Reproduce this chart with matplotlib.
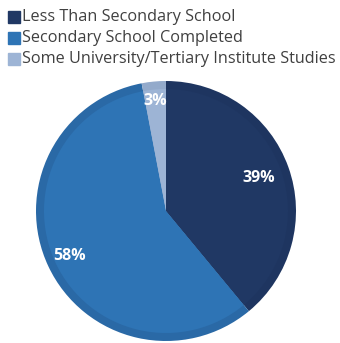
import matplotlib.pyplot as plt
import numpy as np

categories = ['Less Than Secondary School', 'Secondary School Completed',
              'Some University/Tertiary Institute Studies']
shares = [39, 58, 3]
colors = ['#203864', '#2E74B5', '#9DB4D5']
rim = ['#1E3560', '#2A69A6', '#93AACB']

plt.rcParams['font.family'] = ['Open Sans', 'DejaVu Sans']

W, H = 340, 343
fig = plt.figure(figsize=(3.4, 3.43), dpi=100)
ax = fig.add_axes([0.0, 0.0, 1.0, 1.0])

cx, cy, r = 166, H - 211, 130

# outer ring in a slightly darker shade, then the main wedges on top
ax.pie(shares, colors=rim, startangle=90, counterclock=False, radius=r,
       center=(cx, cy), frame=True, wedgeprops=dict(linewidth=0))
ax.pie(shares, colors=colors, startangle=90, counterclock=False, radius=r - 8,
       center=(cx, cy), frame=True, wedgeprops=dict(linewidth=0))
ax.set_xlim(0, W)
ax.set_ylim(0, H)
ax.set_aspect('equal')
ax.axis('off')

# percentage labels
dist = [0.76, 0.82, 0.85]
start = 90.0
for v, d in zip(shares, dist):
    mid = start - v * 3.6 / 2
    start -= v * 3.6
    a = np.deg2rad(mid)
    ax.text(cx + d * r * np.cos(a), cy + d * r * np.sin(a), '%d%%' % v,
            color='white', fontsize=11.5, fontweight='bold',
            ha='center', va='center')

# legend squares and labels
for i, (name, c) in enumerate(zip(categories, colors)):
    y = H - (17 + i * 21)
    ax.add_patch(plt.Rectangle((8, y - 6), 12, 12, color=c))
    ax.text(22, y, name, fontsize=11.7, color='#404040', va='center', ha='left')

fig.savefig('out.png', dpi=100)
